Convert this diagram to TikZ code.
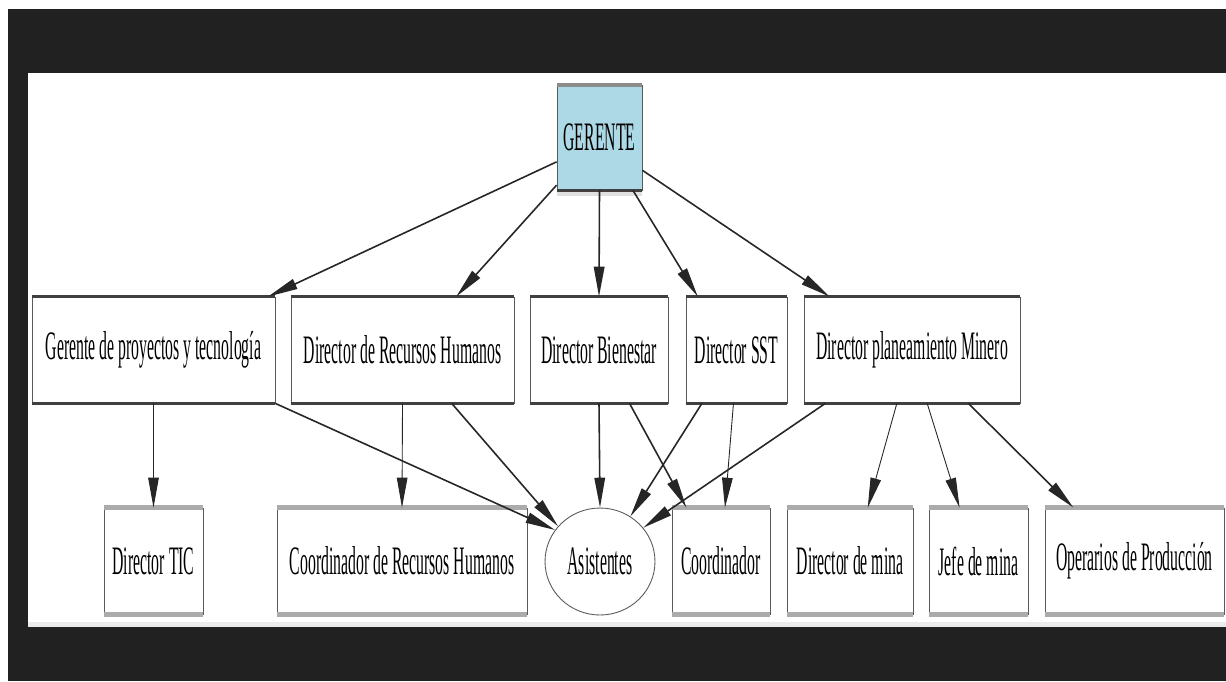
\documentclass[tikz,border=0pt]{standalone}
\usepackage{fontspec}
\newfontfamily\narrowserif[FakeStretch=0.39]{Liberation Serif}
\usetikzlibrary{arrows.meta,calc,shapes.geometric}
\definecolor{framedark}{HTML}{212121}
\definecolor{bossblue}{HTML}{ADD8E6}

\begin{document}
\begin{tikzpicture}[x=0.02cm,y=-0.02cm,
  box/.style={draw=black!65, line width=0.5pt, rectangle, inner sep=0pt,
    minimum height=2.12cm, font=\narrowserif\fontsize{23}{26}\selectfont},
  edge/.style={draw=black!85, line width=0.9pt, -{Triangle[length=17pt,width=6pt]}},
  band/.style={line width=1.8pt, draw=black!75},
  lightband/.style={line width=2.6pt, draw=black!33}]

  % frame
  \useasboundingbox (0,0) rectangle (1226,681);
  \fill[framedark] (8,9) rectangle (1226,681);
  \fill[black!8] (28,73) rectangle (1226,627);
  \fill[white] (28,73) rectangle (1226,622);

  % top
  \node[box, fill=bossblue, minimum width=1.70cm, minimum height=2.10cm] (gerente) at (599.5,137.5) {GERENTE};

  % directors
  \node[box, minimum width=4.86cm] (proj) at (153.5,350) {Gerente de proyectos y tecnología};
  \node[box, minimum width=4.46cm] (rrhh) at (402.5,350) {Director de Recursos Humanos};
  \node[box, minimum width=2.76cm] (bien) at (599,350) {Director Bienestar};
  \node[box, minimum width=2.02cm] (sst) at (736.5,350) {Director SST};
  \node[box, minimum width=4.32cm] (plan) at (912,350) {Director planeamiento Minero};

  % staff
  \node[box, minimum width=1.98cm] (tic) at (153.5,561) {Director TIC};
  \node[box, minimum width=5.00cm] (crrhh) at (402,561) {Coordinador de Recursos Humanos};
  \node[box, ellipse, minimum width=2.20cm, minimum height=2.14cm] (asis) at (600,561.5) {Asistentes};
  \node[box, minimum width=1.96cm] (coord) at (721,561) {Coordinador};
  \node[box, minimum width=2.52cm] (mina) at (850,561) {Director de mina};
  \node[box, minimum width=1.98cm] (jefe) at (978.5,561) {Jefe de mina};
  \node[box, minimum width=3.58cm] (oper) at (1134.5,561) {Operarios de Producción};

  % edge bands
  \draw[line width=2.2pt, black!45] (gerente.north west) -- (gerente.north east);
  \draw[line width=2.2pt, black!12] ([yshift=-2pt]gerente.south west) -- ([yshift=-2pt]gerente.south east);
  \draw[band] (gerente.south west) -- (gerente.south east);
  \foreach \n in {proj,rrhh,bien,sst,plan}
    \draw[band] (\n.north west) -- (\n.north east) (\n.south west) -- (\n.south east);
  \foreach \n in {tic,crrhh,coord,mina,jefe,oper}
    \draw[lightband] (\n.north west) -- (\n.north east) (\n.south west) -- (\n.south east);

  % from the top
  \draw[edge] ($(gerente.north west)!0.73!(gerente.south west)$) -- ($(proj.north west)!0.97!(proj.north east)$);
  \draw[edge] ($(gerente.north west)!0.95!(gerente.south west)$) -- ($(rrhh.north west)!0.74!(rrhh.north east)$);
  \draw[edge] (gerente.south) -- (bien.north);
  \draw[edge] ($(gerente.south west)!0.89!(gerente.south east)$) -- ($(sst.north west)!0.12!(sst.north east)$);
  \draw[edge] ($(gerente.north east)!0.81!(gerente.south east)$) -- ($(plan.north west)!0.12!(plan.north east)$);

  % second level
  \draw[edge, line width=0.5pt] (proj.south) -- (tic.north);
  \draw[edge] (proj.south east) -- (asis.145);
  \draw[edge, line width=0.5pt] (rrhh.south) -- (crrhh.north);
  \draw[edge] ($(rrhh.south west)!0.72!(rrhh.south east)$) -- (asis.140);
  \draw[edge] (bien.south) -- (asis.north);
  \draw[edge] ($(bien.south west)!0.72!(bien.south east)$) -- ($(coord.north west)!0.15!(coord.north east)$);
  \draw[edge] ($(sst.south west)!0.16!(sst.south east)$) -- (asis.56);
  \draw[edge, line width=0.5pt] ($(sst.south west)!0.47!(sst.south east)$) -- ($(coord.north west)!0.54!(coord.north east)$);
  \draw[edge] ($(plan.south west)!0.10!(plan.south east)$) -- (asis.38);
  \draw[edge, line width=0.5pt] ($(plan.south west)!0.43!(plan.south east)$) -- ($(mina.north west)!0.64!(mina.north east)$);
  \draw[edge, line width=0.5pt] ($(plan.south west)!0.57!(plan.south east)$) -- ($(jefe.north west)!0.31!(jefe.north east)$);
  \draw[edge] ($(plan.south west)!0.76!(plan.south east)$) -- ($(oper.north west)!0.16!(oper.north east)$);
\end{tikzpicture}
\end{document}
